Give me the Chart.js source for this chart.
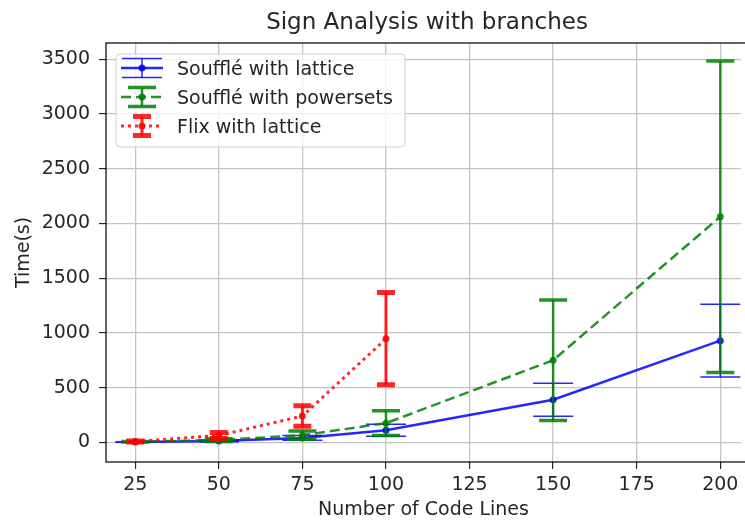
<!DOCTYPE html>
<html>
<head>
<meta charset="utf-8">
<script src="https://cdn.jsdelivr.net/npm/chart.js@4.4.0/dist/chart.umd.min.js"></script>
<style>
  html, body { margin: 0; padding: 0; background: #fff; }
  #wrap { width: 745px; height: 523px; }
</style>
</head>
<body>
<div id="wrap"><canvas id="signChart" width="745" height="523"></canvas></div>
<script>
var codeLines = [25, 50, 75, 100, 150, 200];
var xTicks = [25, 50, 75, 100, 125, 150, 175, 200];
var yTicks = [0, 500, 1000, 1500, 2000, 2500, 3000, 3500];

var souffleLattice = [3, 12, 40, 110, 389, 929];
var souffleLatticeErr = [2, 8, 22, 55, 150, 333];
var soufflePowersets = [5, 20, 65, 175, 750, 2062];
var soufflePowersetsErr = [3, 12, 38, 113, 551, 1424];
var flixLattice = [8, 62, 240, 947];
var flixLatticeErr = [5, 28, 94, 422];

var blueColor = 'rgba(0, 0, 255, 0.85)';
var greenColor = 'rgba(0, 128, 0, 0.85)';
var redColor = 'rgba(255, 0, 0, 0.85)';
var textColor = '#262626';
var fontFamily = '"DejaVu Sans", sans-serif';
var fontSize = 19;

function points(values){
    return values.map(function(v, i){ return {x: codeLines[i], y: v}; });
}

var series = [
    {label: 'Soufflé with lattice', data: souffleLattice, err: souffleLatticeErr, color: blueColor,
     dash: [], lw: 2.5, barW: 1.5, capHalf: 20, capW: 1.5, order: 3},
    {label: 'Soufflé with powersets', data: soufflePowersets, err: soufflePowersetsErr, color: greenColor,
     dash: [10, 5], lw: 2.5, barW: 2.5, capHalf: 14, capW: 3.5, order: 2},
    {label: 'Flix with lattice', data: flixLattice, err: flixLatticeErr, color: redColor,
     dash: [3, 4], lw: 3, barW: 3, capHalf: 9, capW: 5, order: 1}
];

function drawErrorBar(ctx, s, x, yTop, yBot){
    ctx.save();
    ctx.strokeStyle = s.color;
    ctx.setLineDash([]);
    ctx.lineWidth = s.barW;
    ctx.beginPath();
    ctx.moveTo(x, yTop);
    ctx.lineTo(x, yBot);
    ctx.stroke();
    ctx.lineWidth = s.capW;
    ctx.beginPath();
    ctx.moveTo(x - s.capHalf, yTop);
    ctx.lineTo(x + s.capHalf, yTop);
    ctx.moveTo(x - s.capHalf, yBot);
    ctx.lineTo(x + s.capHalf, yBot);
    ctx.stroke();
    ctx.restore();
}

var errorBars = {
    id: 'errorBars',
    beforeDatasetDraw: function(chart, args){
        var s = series[args.index];
        var xs = chart.scales.x, ys = chart.scales.y;
        var ctx = chart.ctx;
        ctx.save();
        ctx.beginPath();
        ctx.rect(chart.chartArea.left, chart.chartArea.top, chart.chartArea.width, chart.chartArea.height);
        ctx.clip();
        s.data.forEach(function(v, i){
            var px = xs.getPixelForValue(codeLines[i]);
            drawErrorBar(ctx, s, px, ys.getPixelForValue(v + s.err[i]), ys.getPixelForValue(v - s.err[i]));
        });
        ctx.restore();
    },
    afterDraw: function(chart){
        var ctx = chart.ctx;
        var a = chart.chartArea;
        // frame
        ctx.save();
        ctx.strokeStyle = '#000';
        ctx.lineWidth = 1.2;
        ctx.strokeRect(a.left, a.top, a.right - a.left + 5, a.bottom - a.top);
        // title
        ctx.fillStyle = textColor;
        ctx.font = '23px ' + fontFamily;
        ctx.textAlign = 'center';
        ctx.textBaseline = 'alphabetic';
        ctx.fillText('Sign Analysis with branches', 427, 29);
        // legend
        var lx = 116, ly = 54, lw = 289, lh = 93;
        ctx.fillStyle = 'rgba(255,255,255,0.8)';
        ctx.strokeStyle = '#d0d0d0';
        ctx.lineWidth = 1;
        ctx.beginPath();
        ctx.roundRect(lx, ly, lw, lh, 4);
        ctx.fill();
        ctx.stroke();
        series.forEach(function(s, i){
            var cy = 68 + i * 29;
            var hx = 142;
            ctx.save();
            ctx.strokeStyle = s.color;
            ctx.lineWidth = s.lw;
            ctx.setLineDash(s.dash);
            ctx.beginPath();
            ctx.moveTo(121, cy);
            ctx.lineTo(163, cy);
            ctx.stroke();
            ctx.restore();
            drawErrorBar(ctx, s, hx, cy - 9.5, cy + 9.5);
            ctx.fillStyle = s.color;
            ctx.beginPath();
            ctx.arc(hx, cy, 3.5, 0, Math.PI * 2);
            ctx.fill();
            ctx.fillStyle = textColor;
            ctx.font = fontSize + 'px ' + fontFamily;
            ctx.textAlign = 'left';
            ctx.textBaseline = 'alphabetic';
            ctx.fillText(s.label, 177, cy + 7);
        });
        ctx.restore();
    }
};

new Chart(document.getElementById('signChart').getContext('2d'), {
    type: 'line',
    data: {
        datasets: series.map(function(s){
            return {
                label: s.label,
                data: points(s.data),
                borderColor: s.color,
                backgroundColor: s.color,
                borderWidth: s.lw,
                borderDash: s.dash,
                pointRadius: 3.5,
                pointBorderWidth: 0,
                pointBackgroundColor: s.color,
                fill: false,
                tension: 0,
                order: s.order
            };
        })
    },
    options: {
        responsive: false,
        animation: false,
        layout: { padding: { left: 0, right: 0, top: 43, bottom: 0 } },
        plugins: {
            legend: { display: false },
            tooltip: { enabled: false },
            title: { display: false }
        },
        scales: {
            x: {
                type: 'linear',
                min: 16.25,
                max: 206.2,
                afterBuildTicks: function(axis){ axis.ticks = xTicks.map(function(v){ return {value: v}; }); },
                afterFit: function(axis){ axis.height = 61; },
                border: { display: false },
                grid: { color: '#c4c4c4', lineWidth: 1.3, tickColor: '#000', tickLength: 7, tickWidth: 1 },
                ticks: { color: textColor, font: { family: fontFamily, size: fontSize }, padding: 5, maxRotation: 0,
                         callback: function(v){ return String(v); } },
                title: { display: true, text: 'Number of Code Lines', color: textColor,
                         font: { family: fontFamily, size: fontSize }, padding: { top: 2, bottom: 2 } }
            },
            y: {
                min: -180,
                max: 3650,
                afterBuildTicks: function(axis){ axis.ticks = yTicks.map(function(v){ return {value: v}; }); },
                afterFit: function(axis){ axis.width = 106; },
                border: { display: false },
                grid: { color: '#c4c4c4', lineWidth: 1.3, tickColor: '#000', tickLength: 7, tickWidth: 1 },
                ticks: { color: textColor, font: { family: fontFamily, size: fontSize }, padding: 9,
                         callback: function(v){ return String(v); } },
                title: { display: true, text: 'Time(s)', color: textColor,
                         font: { family: fontFamily, size: fontSize }, padding: { top: 12.5, bottom: 12.5 } }
            }
        }
    },
    plugins: [errorBars]
});
</script>
</body>
</html>
